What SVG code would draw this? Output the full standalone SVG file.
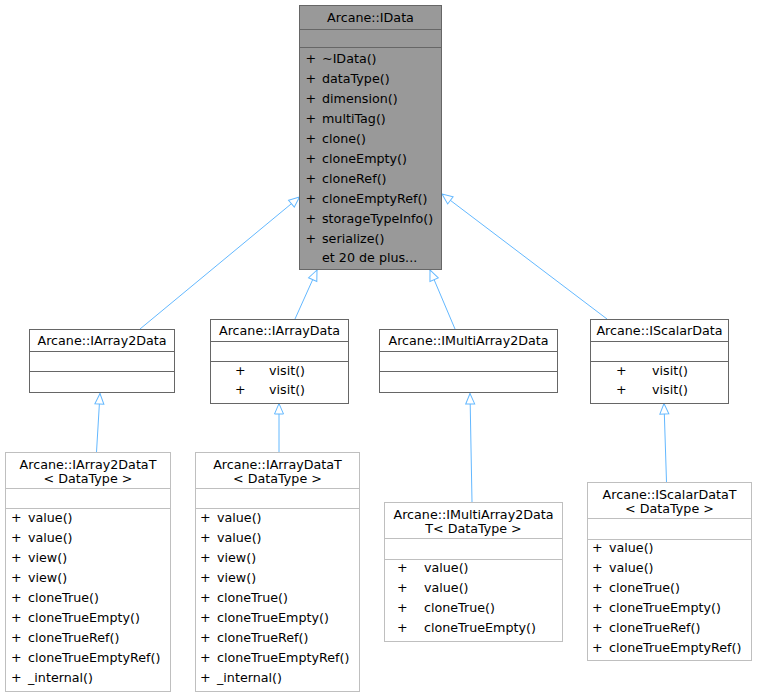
<svg xmlns="http://www.w3.org/2000/svg" width="757" height="697" viewBox="0 0 757 697">
<style>
text{font-family:"DejaVu Sans","Liberation Sans",sans-serif;font-size:12.7px;fill:#000}
.c{text-anchor:middle}
.box{fill:#fff;stroke:#666666;stroke-width:1}
.lbox{fill:#fff;stroke:#bfbfbf;stroke-width:1}
.gbox{fill:#999999;stroke:#666666;stroke-width:1}
.sep{stroke:#666666;stroke-width:1}
.lsep{stroke:#bfbfbf;stroke-width:1}
.edge{stroke:#63b8ff;stroke-width:1;fill:none;marker-end:url(#tri)}
</style>
<defs>
<marker id="tri" viewBox="-12 -6 13 12" refX="0" refY="0" markerWidth="13" markerHeight="12" markerUnits="userSpaceOnUse" orient="auto">
<path d="M0,0 L-10.5,-4.5 L-10.5,4.5 Z" fill="#fff" stroke="#63b8ff" stroke-width="1"/>
</marker>
</defs>
<rect width="757" height="697" fill="#fff"/>
<g id="connectors">
<line class="edge" x1="140" y1="329" x2="299.5" y2="197"/>
<line class="edge" x1="295" y1="319" x2="317" y2="270"/>
<line class="edge" x1="455" y1="329" x2="430" y2="270"/>
<line class="edge" x1="607" y1="319" x2="442" y2="194"/>
<line class="edge" x1="96.5" y1="452" x2="100" y2="393.5"/>
<line class="edge" x1="279" y1="452" x2="279" y2="403.5"/>
<line class="edge" x1="472" y1="502" x2="470" y2="393.5"/>
<line class="edge" x1="666.5" y1="482" x2="664" y2="403.5"/>
</g>
<g id="IData">
<rect class="gbox" x="299.5" y="5.5" width="142" height="264"/>
<line class="sep" x1="299.5" y1="29.5" x2="441.5" y2="29.5"/>
<line class="sep" x1="299.5" y1="47.5" x2="441.5" y2="47.5"/>
<text class="c" x="370.5" y="21.5">Arcane::IData</text>
<text x="305.5" y="62.5">+</text><text x="322" y="62.5">~IData()</text>
<text x="305.5" y="82.5">+</text><text x="322" y="82.5">dataType()</text>
<text x="305.5" y="102.5">+</text><text x="322" y="102.5">dimension()</text>
<text x="305.5" y="122.5">+</text><text x="322" y="122.5">multiTag()</text>
<text x="305.5" y="142.5">+</text><text x="322" y="142.5">clone()</text>
<text x="305.5" y="162.5">+</text><text x="322" y="162.5">cloneEmpty()</text>
<text x="305.5" y="182.5">+</text><text x="322" y="182.5">cloneRef()</text>
<text x="305.5" y="202.5">+</text><text x="322" y="202.5">cloneEmptyRef()</text>
<text x="305.5" y="222.5">+</text><text x="322" y="222.5">storageTypeInfo()</text>
<text x="305.5" y="242.5">+</text><text x="322" y="242.5">serialize()</text>
<text x="322" y="262">et 20 de plus...</text>
</g>
<g id="IArray2Data">
<rect class="box" x="29.5" y="329.5" width="145" height="63"/>
<line class="sep" x1="29.5" y1="351.5" x2="174.5" y2="351.5"/>
<line class="sep" x1="29.5" y1="371.5" x2="174.5" y2="371.5"/>
<text class="c" x="102" y="345">Arcane::IArray2Data</text>
</g>
<g id="IArrayData">
<rect class="box" x="210.5" y="319.5" width="138" height="84"/>
<line class="sep" x1="210.5" y1="341.5" x2="348.5" y2="341.5"/>
<line class="sep" x1="210.5" y1="361.5" x2="348.5" y2="361.5"/>
<text class="c" x="279.5" y="335">Arcane::IArrayData</text>
<text x="235" y="375">+</text><text x="269" y="375">visit()</text>
<text x="235" y="394">+</text><text x="269" y="394">visit()</text>
</g>
<g id="IMultiArray2Data">
<rect class="box" x="379.5" y="329.5" width="178" height="63"/>
<line class="sep" x1="379.5" y1="351.5" x2="557.5" y2="351.5"/>
<line class="sep" x1="379.5" y1="371.5" x2="557.5" y2="371.5"/>
<text class="c" x="468.5" y="345">Arcane::IMultiArray2Data</text>
</g>
<g id="IScalarData">
<rect class="box" x="590.5" y="319.5" width="138" height="84"/>
<line class="sep" x1="590.5" y1="341.5" x2="728.5" y2="341.5"/>
<line class="sep" x1="590.5" y1="361.5" x2="728.5" y2="361.5"/>
<text class="c" x="659.5" y="335">Arcane::IScalarData</text>
<text x="616" y="375">+</text><text x="652" y="375">visit()</text>
<text x="616" y="394">+</text><text x="652" y="394">visit()</text>
</g>
<g id="IArray2DataT">
<rect class="lbox" x="5.5" y="452.5" width="165" height="239"/>
<line class="lsep" x1="5.5" y1="488.5" x2="170.5" y2="488.5"/>
<line class="lsep" x1="5.5" y1="508.5" x2="170.5" y2="508.5"/>
<text class="c" x="88" y="469">Arcane::IArray2DataT</text>
<text class="c" x="88" y="483">&lt; DataType &gt;</text>
<text x="11" y="522">+</text><text x="28" y="522">value()</text>
<text x="11" y="542">+</text><text x="28" y="542">value()</text>
<text x="11" y="562">+</text><text x="28" y="562">view()</text>
<text x="11" y="582">+</text><text x="28" y="582">view()</text>
<text x="11" y="602">+</text><text x="28" y="602">cloneTrue()</text>
<text x="11" y="622">+</text><text x="28" y="622">cloneTrueEmpty()</text>
<text x="11" y="642">+</text><text x="28" y="642">cloneTrueRef()</text>
<text x="11" y="662">+</text><text x="28" y="662">cloneTrueEmptyRef()</text>
<text x="11" y="682">+</text><text x="28" y="682">_internal()</text>
</g>
<g id="IArrayDataT">
<rect class="lbox" x="195.5" y="452.5" width="164" height="239"/>
<line class="lsep" x1="195.5" y1="488.5" x2="359.5" y2="488.5"/>
<line class="lsep" x1="195.5" y1="508.5" x2="359.5" y2="508.5"/>
<text class="c" x="277.5" y="469">Arcane::IArrayDataT</text>
<text class="c" x="277.5" y="483">&lt; DataType &gt;</text>
<text x="200" y="522">+</text><text x="217" y="522">value()</text>
<text x="200" y="542">+</text><text x="217" y="542">value()</text>
<text x="200" y="562">+</text><text x="217" y="562">view()</text>
<text x="200" y="582">+</text><text x="217" y="582">view()</text>
<text x="200" y="602">+</text><text x="217" y="602">cloneTrue()</text>
<text x="200" y="622">+</text><text x="217" y="622">cloneTrueEmpty()</text>
<text x="200" y="642">+</text><text x="217" y="642">cloneTrueRef()</text>
<text x="200" y="662">+</text><text x="217" y="662">cloneTrueEmptyRef()</text>
<text x="200" y="682">+</text><text x="217" y="682">_internal()</text>
</g>
<g id="IMultiArray2DataT">
<rect class="lbox" x="384.5" y="502.5" width="178" height="139"/>
<line class="lsep" x1="384.5" y1="538.5" x2="562.5" y2="538.5"/>
<line class="lsep" x1="384.5" y1="559.5" x2="562.5" y2="559.5"/>
<text class="c" x="473.5" y="518.5">Arcane::IMultiArray2Data</text>
<text class="c" x="473.5" y="532.5">T&lt; DataType &gt;</text>
<text x="397" y="572">+</text><text x="424" y="572">value()</text>
<text x="397" y="592">+</text><text x="424" y="592">value()</text>
<text x="397" y="612">+</text><text x="424" y="612">cloneTrue()</text>
<text x="397" y="632">+</text><text x="424" y="632">cloneTrueEmpty()</text>
</g>
<g id="IScalarDataT">
<rect class="lbox" x="587.5" y="482.5" width="164" height="178"/>
<line class="lsep" x1="587.5" y1="518.5" x2="751.5" y2="518.5"/>
<line class="lsep" x1="587.5" y1="539.5" x2="751.5" y2="539.5"/>
<text class="c" x="669.5" y="499">Arcane::IScalarDataT</text>
<text class="c" x="669.5" y="513">&lt; DataType &gt;</text>
<text x="592" y="552">+</text><text x="609" y="552">value()</text>
<text x="592" y="572">+</text><text x="609" y="572">value()</text>
<text x="592" y="592">+</text><text x="609" y="592">cloneTrue()</text>
<text x="592" y="612">+</text><text x="609" y="612">cloneTrueEmpty()</text>
<text x="592" y="632">+</text><text x="609" y="632">cloneTrueRef()</text>
<text x="592" y="652">+</text><text x="609" y="652">cloneTrueEmptyRef()</text>
</g>
</svg>
